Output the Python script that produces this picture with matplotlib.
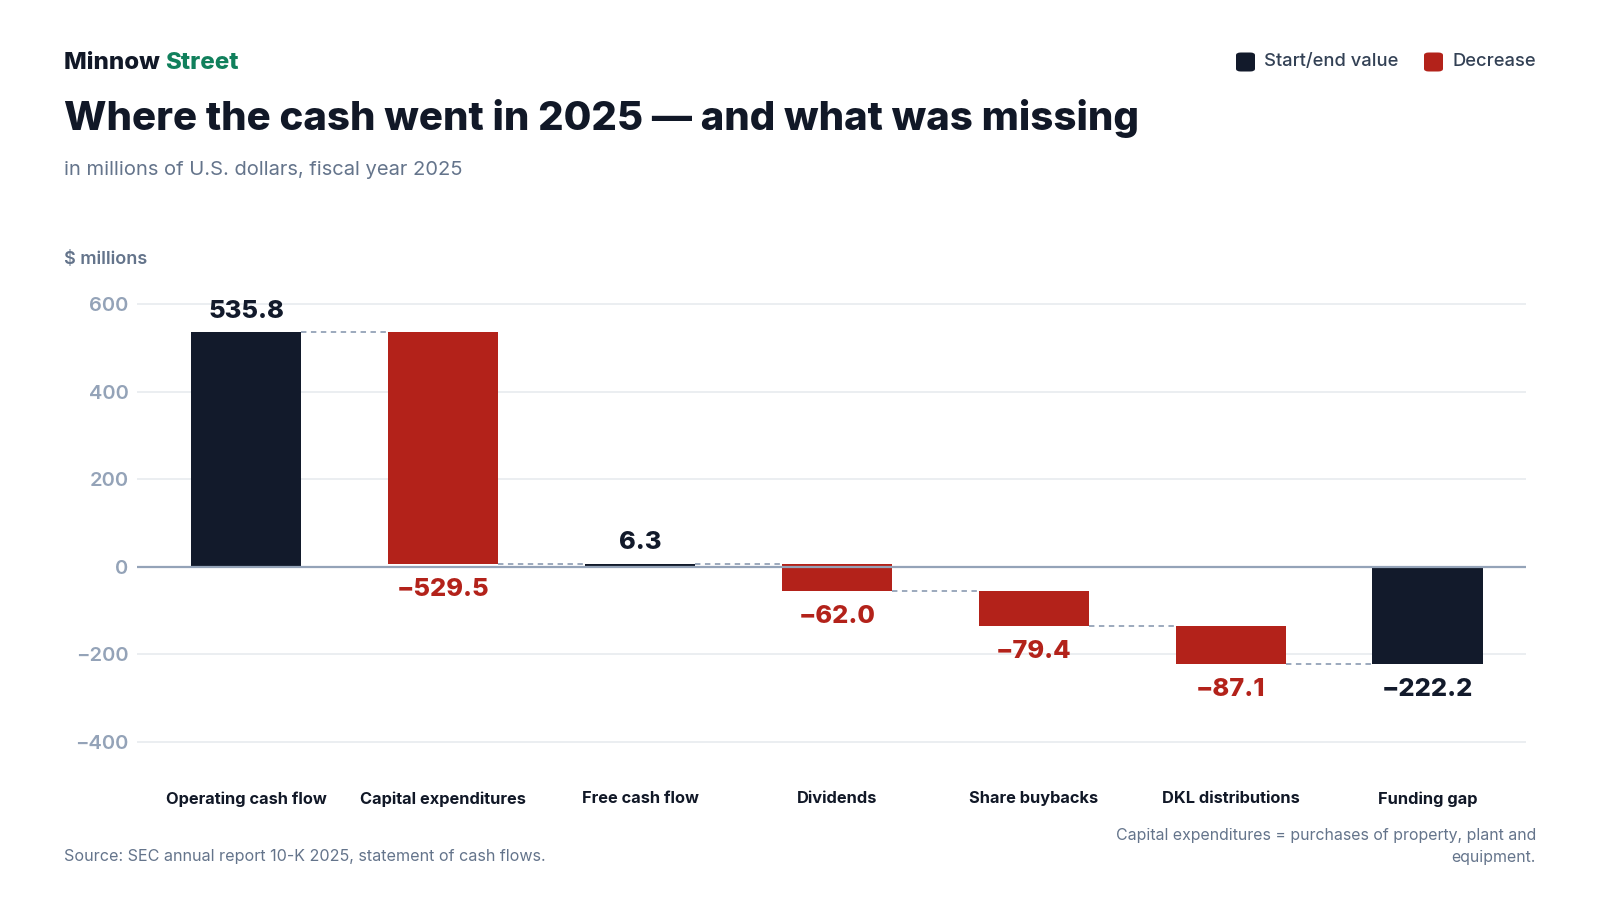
import matplotlib
matplotlib.use("Agg")
import matplotlib.pyplot as plt
from matplotlib.patches import FancyBboxPatch

plt.rcParams['font.family'] = ['Inter', 'DejaVu Sans']

# data
categories = ["Operating cash flow", "Capital expenditures", "Free cash flow",
              "Dividends", "Share buybacks", "DKL distributions", "Funding gap"]
values = [535.8, -529.5, 6.3, -62.0, -79.4, -87.1, -222.2]
kinds = ["total", "decrease", "total", "decrease", "decrease", "decrease", "total"]
yticks = [-400, -200, 0, 200, 400, 600]

NAVY = "#121a2b"
RED = "#b3221a"
GREEN = "#11805c"
GRID = "#e8ebef"
SLATE = "#64748b"
TICK = "#94a3b8"

W, H = 1600, 900
fig = plt.figure(figsize=(16, 9), dpi=100)
fig.patch.set_facecolor("white")

def fx(px):
    return px / W

def fy(py):
    return 1 - py / H

# axes box in pixels: left 137, right 1526, top 285, bottom 765
ax = fig.add_axes([fx(137), fy(765), (1526 - 137) / W, (765 - 285) / H])
ax.set_xlim(-0.555, 6.5)
ax.set_ylim(-453, 644)

for s in ax.spines.values():
    s.set_visible(False)
ax.set_yticks(yticks)
ax.set_yticklabels([f"{v:,}".replace("-", "\u2212") for v in yticks])
ax.tick_params(axis="y", length=0, pad=6, labelsize=14.5, labelcolor=TICK)
for lab in ax.get_yticklabels():
    lab.set_fontweight("semibold")
ax.set_xticks(range(len(categories)))
ax.set_xticklabels(categories, fontsize=11.8, fontweight="bold", color="#111827")
ax.tick_params(axis="x", length=0, pad=19)

for v in yticks:
    if v != 0:
        ax.axhline(v, color=GRID, lw=1.2, zorder=0)
ax.axhline(0, color=TICK, lw=1.6, zorder=3)

# waterfall
bw = 0.56
running = 0.0
levels = []
for i, (v, k) in enumerate(zip(values, kinds)):
    if k == "total":
        bottom, top = min(0, v), max(0, v)
        running = v
        col = NAVY
    else:
        bottom, top = running + v, running
        running = running + v
        col = RED
    ax.bar(i, top - bottom, bottom=bottom, width=bw, color=col, zorder=2)
    levels.append(running)
    txt = f"{abs(v):.1f}"
    txt = ("\u2212" + txt) if v < 0 else txt
    if k == "total" and v > 0:
        ax.annotate(txt, (i, top), xytext=(0, 7), textcoords="offset points",
                    ha="center", va="bottom", fontsize=18.3, fontweight="heavy",
                    color=NAVY)
    else:
        ax.annotate(txt, (i, bottom), xytext=(0, -10), textcoords="offset points",
                    ha="center", va="top", fontsize=18.3, fontweight="heavy",
                    color=NAVY if k == "total" else RED)

for i in range(len(values) - 1):
    ax.plot([i + bw / 2, i + 1 - bw / 2], [levels[i], levels[i]],
            color=TICK, lw=1.3, ls=(0, (3, 2.5)), zorder=1)

# header
fig.canvas.draw()
r = fig.canvas.get_renderer()
t1 = fig.text(fx(64), fy(63), "Minnow ", fontsize=17.3, fontweight="heavy",
              color="#111827", va="center", ha="left")
bb = t1.get_window_extent(renderer=r)
fig.text(bb.x1 / W, fy(63), "Street", fontsize=17.3, fontweight="heavy",
         color=GREEN, va="center", ha="left")
fig.text(fx(64), fy(119), "Where the cash went in 2025 \u2014 and what was missing",
         fontsize=28.9, fontweight="heavy", color="#111827", va="center", ha="left")
fig.text(fx(64), fy(170), "in millions of U.S. dollars, fiscal year 2025",
         fontsize=14.5, color=SLATE, va="center", ha="left")
fig.text(fx(64), fy(259), "$ millions", fontsize=13, fontweight="semibold",
         color=SLATE, va="center", ha="left")

# legend
for sx, tx, label, col in [(1236, 1264, "Start/end value", NAVY),
                           (1424, 1453, "Decrease", RED)]:
    sq = FancyBboxPatch((fx(sx), fy(71.5)), fx(19), 19 / H,
                        boxstyle="round,pad=0,rounding_size=0.003",
                        transform=fig.transFigure, color=col, lw=0)
    fig.add_artist(sq)
    fig.text(fx(tx), fy(62), label, fontsize=13.2, fontweight="medium",
             color="#334155", va="center", ha="left")

# footer
fig.text(fx(64), fy(857), "Source: SEC annual report 10-K 2025, statement of cash flows.",
         fontsize=11.6, color=SLATE, va="center", ha="left")
fig.text(fx(1536), fy(862),
         "Capital expenditures = purchases of property, plant and\nequipment.",
         fontsize=11.45, color=SLATE, va="baseline", ha="right",
         multialignment="right", linespacing=1.6)

fig.savefig("out.png", dpi=100)
